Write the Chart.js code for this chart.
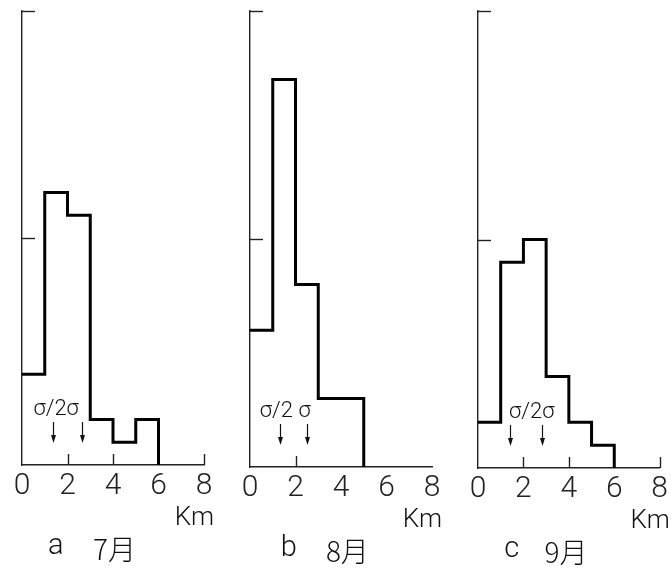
<!DOCTYPE html>
<html>
<head>
<meta charset="utf-8">
<script src="https://cdn.jsdelivr.net/npm/chart.js@4/dist/chart.umd.min.js"></script>
<style>
  html, body { margin: 0; padding: 0; background: #fff; }
  #wrap { position: relative; width: 671px; height: 569px; overflow: hidden; }
  canvas { position: absolute; top: 0; }
</style>
</head>
<body>
<div id="wrap">
  <canvas id="cA" width="228" height="569" style="left:0px"></canvas>
  <canvas id="cB" width="228" height="569" style="left:228px"></canvas>
  <canvas id="cC" width="215" height="569" style="left:456px"></canvas>
</div>
<script>
// bin edges (km) and counts per month
const edgesA = [0, 1, 2, 3, 4, 5, 6];
const countsA = [4, 12, 11, 2, 1, 2];
const edgesB = [0, 1, 2, 3, 4, 5];
const countsB = [6, 17, 8, 3, 3];
const edgesC = [0, 1, 2, 3, 4, 5, 6];
const countsC = [2, 9, 10, 4, 2, 1];

// sigma and 2 sigma markers (km)
const sigmaA = [1.35, 2.65];
const sigmaB = [1.3, 2.5];
const sigmaC = [1.4, 2.8];

const xTickValues = [0, 2, 4, 6, 8];
const yTickMarks = [10, 20];
const xMarksA = [2, 4, 8];
const xMarksB = [2];
const xMarksC = [2, 4, 8];

const sigmaLabels = ['σ/2σ', 'σ/2 σ', 'σ/2σ'];
const panelLetters = ['a', 'b', 'c'];
const monthLabels = ['7月', '8月', '9月'];
const unitLabel = 'Km';

const NUM_FONT = 'Roboto, "DejaVu Sans", sans-serif';
const CJK_FONT = '"Noto Sans CJK JP", "Noto Sans", sans-serif';

const panels = [
  {canvas: 'cA', edges: edgesA, counts: countsA, sigma: sigmaA, xMarks: xMarksA, i: 0,
   sigmaAt: 1.5, letterAt: 1.49, monthAt: 4.07, padRight: 24, padBottom: 62},
  {canvas: 'cB', edges: edgesB, counts: countsB, sigma: sigmaB, xMarks: xMarksB, i: 1,
   sigmaAt: 1.55, letterAt: 1.7, monthAt: 4.28, padRight: 24, padBottom: 60},
  {canvas: 'cC', edges: edgesC, counts: countsC, sigma: sigmaC, xMarks: xMarksC, i: 2,
   sigmaAt: 2.37, letterAt: 1.49, monthAt: 3.87, padRight: 11, padBottom: 59}
];

const extras = {
  id: 'extras',
  afterDraw(chart, args, opts) {
    const p = opts.panel;
    const ctx = chart.ctx;
    const xs = chart.scales.x, ys = chart.scales.y;
    const x0 = xs.getPixelForValue(0);
    const base = ys.getPixelForValue(0);
    ctx.save();
    ctx.strokeStyle = '#222';
    ctx.lineWidth = 1.4;
    // inward ticks on the y axis
    yTickMarks.forEach(v => {
      const y = Math.round(ys.getPixelForValue(v)) + 0.5;
      ctx.beginPath();
      ctx.moveTo(x0, y);
      ctx.lineTo(x0 + 13, y);
      ctx.stroke();
    });
    // upward ticks on the x axis
    p.xMarks.forEach(v => {
      const x = Math.round(xs.getPixelForValue(v)) + 0.5;
      ctx.beginPath();
      ctx.moveTo(x, base);
      ctx.lineTo(x, base - 11);
      ctx.stroke();
    });
    // sigma arrows
    ctx.fillStyle = '#111';
    ctx.strokeStyle = '#111';
    ctx.lineWidth = 1.2;
    p.sigma.forEach(v => {
      const x = Math.round(xs.getPixelForValue(v)) + 0.5;
      const top = base - 43, tip = base - 22;
      ctx.beginPath();
      ctx.moveTo(x, top);
      ctx.lineTo(x, tip - 6);
      ctx.stroke();
      ctx.beginPath();
      ctx.moveTo(x - 2.5, tip - 8);
      ctx.lineTo(x + 2.5, tip - 8);
      ctx.lineTo(x, tip);
      ctx.closePath();
      ctx.fill();
    });
    ctx.textAlign = 'center';
    ctx.textBaseline = 'middle';
    ctx.font = '300 22px ' + NUM_FONT;
    ctx.fillText(sigmaLabels[p.i], xs.getPixelForValue(p.sigmaAt), base - 56);
    // unit label
    ctx.font = '300 26px ' + NUM_FONT;
    ctx.textAlign = 'right';
    ctx.fillText(unitLabel, xs.getPixelForValue(8) + 10, base + 53);
    // caption
    ctx.textAlign = 'center';
    ctx.font = '300 29px ' + NUM_FONT;
    ctx.fillText(panelLetters[p.i], xs.getPixelForValue(p.letterAt), base + 82);
    ctx.font = '300 28px ' + CJK_FONT;
    ctx.fillText(monthLabels[p.i], xs.getPixelForValue(p.monthAt), base + 84);
    ctx.restore();
  }
};

panels.forEach(p => {
  const pts = p.edges.map((e, k) => ({x: e, y: k < p.counts.length ? p.counts[k] : 0}));
  new Chart(document.getElementById(p.canvas), {
    type: 'line',
    data: {
      datasets: [{
        data: pts,
        stepped: 'before',
        borderColor: '#000',
        borderWidth: 3,
        borderJoinStyle: 'miter',
        pointRadius: 0,
        fill: false
      }]
    },
    options: {
      responsive: false,
      animation: false,
      layout: {padding: {left: 22, top: 11, right: p.padRight, bottom: p.padBottom}},
      plugins: {legend: {display: false}, tooltip: {enabled: false}, extras: {panel: p}},
      scales: {
        x: {
          type: 'linear', min: 0, max: 8,
          afterBuildTicks: s => { s.ticks = xTickValues.map(v => ({value: v})); },
          grid: {display: false, drawTicks: false},
          border: {display: true, color: '#222', width: 1.4},
          ticks: {color: '#222', padding: 3, font: {family: NUM_FONT, size: 30, weight: 300}, maxRotation: 0}
        },
        y: {
          min: 0, max: 20,
          grid: {display: false, drawTicks: false},
          border: {display: true, color: '#222', width: 1.4},
          ticks: {display: false}
        }
      }
    },
    plugins: [extras]
  });
});
</script>
</body>
</html>
